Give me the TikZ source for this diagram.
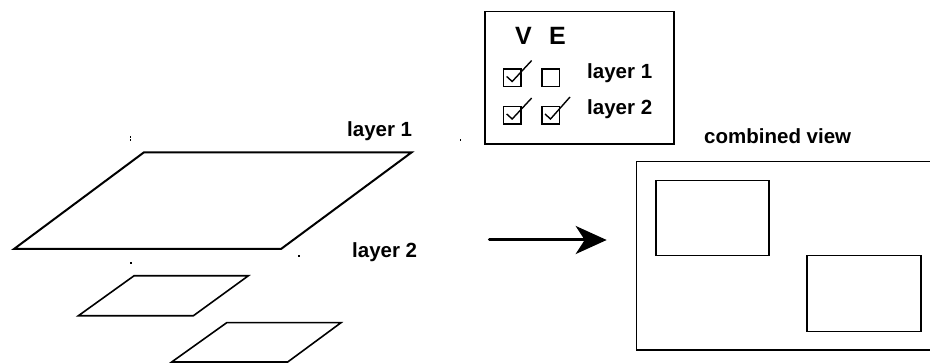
\documentclass[tikz,border=0pt]{standalone}
\usepackage{fontspec}
\setmainfont{Liberation Sans}
\usetikzlibrary{arrows.meta}
\begin{document}
\begin{tikzpicture}[x=1pt,y=-1pt,
  lbl/.style={font=\bfseries\fontsize{20.5}{24}\selectfont, inner sep=0pt, anchor=base west},
  hdr/.style={font=\bfseries\fontsize{25}{30}\selectfont, inner sep=0pt, anchor=base west},
  plane/.style={draw, line width=2pt, line join=miter},
  subplane/.style={draw, line width=1.6pt, line join=miter},
  frame/.style={draw, line width=1.5pt},
  tick/.style={line width=1.4pt, line join=miter},
  speck/.style={fill, minimum size=1.4pt, inner sep=0pt}]
\useasboundingbox (0,0) rectangle (930,363);
\clip (0,0) rectangle (930,363);

% large layer plane
\coordinate (pA) at (144,152.3);
\coordinate (pB) at (411.7,152.3);
\coordinate (pC) at (281,249);
\coordinate (pD) at (14,249);
\draw[plane] (pA) -- (pB) -- (pC) -- (pD) -- cycle;

% two smaller planes
\coordinate (qA) at (134,275.8);
\coordinate (qB) at (248.3,275.8);
\coordinate (qC) at (193.3,315.8);
\coordinate (qD) at (78.3,315.8);
\draw[subplane] (qA) -- (qB) -- (qC) -- (qD) -- cycle;
\coordinate (rA) at (226.7,322.7);
\coordinate (rB) at (341,322.7);
\coordinate (rC) at (287.7,362);
\coordinate (rD) at (171.7,362);
\draw[subplane] (rA) -- (rB) -- (rC) -- (rD) -- cycle;

% small specks around the planes
\node[speck] (s1) at (130.7,137) {};
\node[speck] (s2) at (130.7,140) {};
\node[speck] (s3) at (460.7,140) {};
\node[speck] (s4) at (299,256) {};
\node[speck] (s5) at (131,263) {};

% layer labels
\node[lbl] (l1) at (347,136.5) {layer 1};
\node[lbl] (l2) at (352,257.5) {layer 2};

% visibility legend
\node[frame, minimum width=189.3pt, minimum height=132.6pt, inner sep=0pt, anchor=north west] (legend) at (484,10.7) {};
\node[hdr] (hV) at (515,45) {V};
\node[hdr] (hE) at (549,45) {E};
\node[frame, minimum size=17.5pt, inner sep=0pt, anchor=north west] (v1) at (502.7,68.5) {};
\node[frame, minimum size=17.5pt, inner sep=0pt, anchor=north west] (e1) at (541,68.5) {};
\node[frame, minimum size=17.5pt, inner sep=0pt, anchor=north west] (v2) at (502.7,106) {};
\node[frame, minimum size=17.5pt, inner sep=0pt, anchor=north west] (e2) at (541,106) {};
\draw[tick] ([shift={(4,-1.5)}]v1.west) -- ([shift={(0,-6)}]v1.south) -- ([shift={(10,-8)}]v1.north east);
\draw[tick] ([shift={(4,-1.5)}]v2.west) -- ([shift={(0,-6)}]v2.south) -- ([shift={(10,-8)}]v2.north east);
\draw[tick] ([shift={(4,-1.5)}]e2.west) -- ([shift={(0,-6)}]e2.south) -- ([shift={(10,-9)}]e2.north east);
\node[lbl] (k1) at (587,79) {layer 1};
\node[lbl] (k2) at (587,115) {layer 2};

% combined view
\node[lbl] (cv) at (704,143.3) {combined view};
\node[frame, minimum width=310pt, minimum height=188.6pt, inner sep=0pt, anchor=north west] (view) at (635.7,160.7) {};
\node[frame, minimum width=113.3pt, minimum height=75pt, inner sep=0pt, anchor=north west] (w1) at (655,180) {};
\node[frame, minimum width=114pt, minimum height=76pt, inner sep=0pt, anchor=north west] (w2) at (806,255) {};

% transition arrow
\coordinate (arrS) at (489.3,240);
\coordinate (arrE) at (606.7,240);
\draw[line width=3pt, line cap=round, -{Stealth[length=31pt, width=28pt, inset=9pt]}] (arrS) -- (arrE);
\end{tikzpicture}
\end{document}
